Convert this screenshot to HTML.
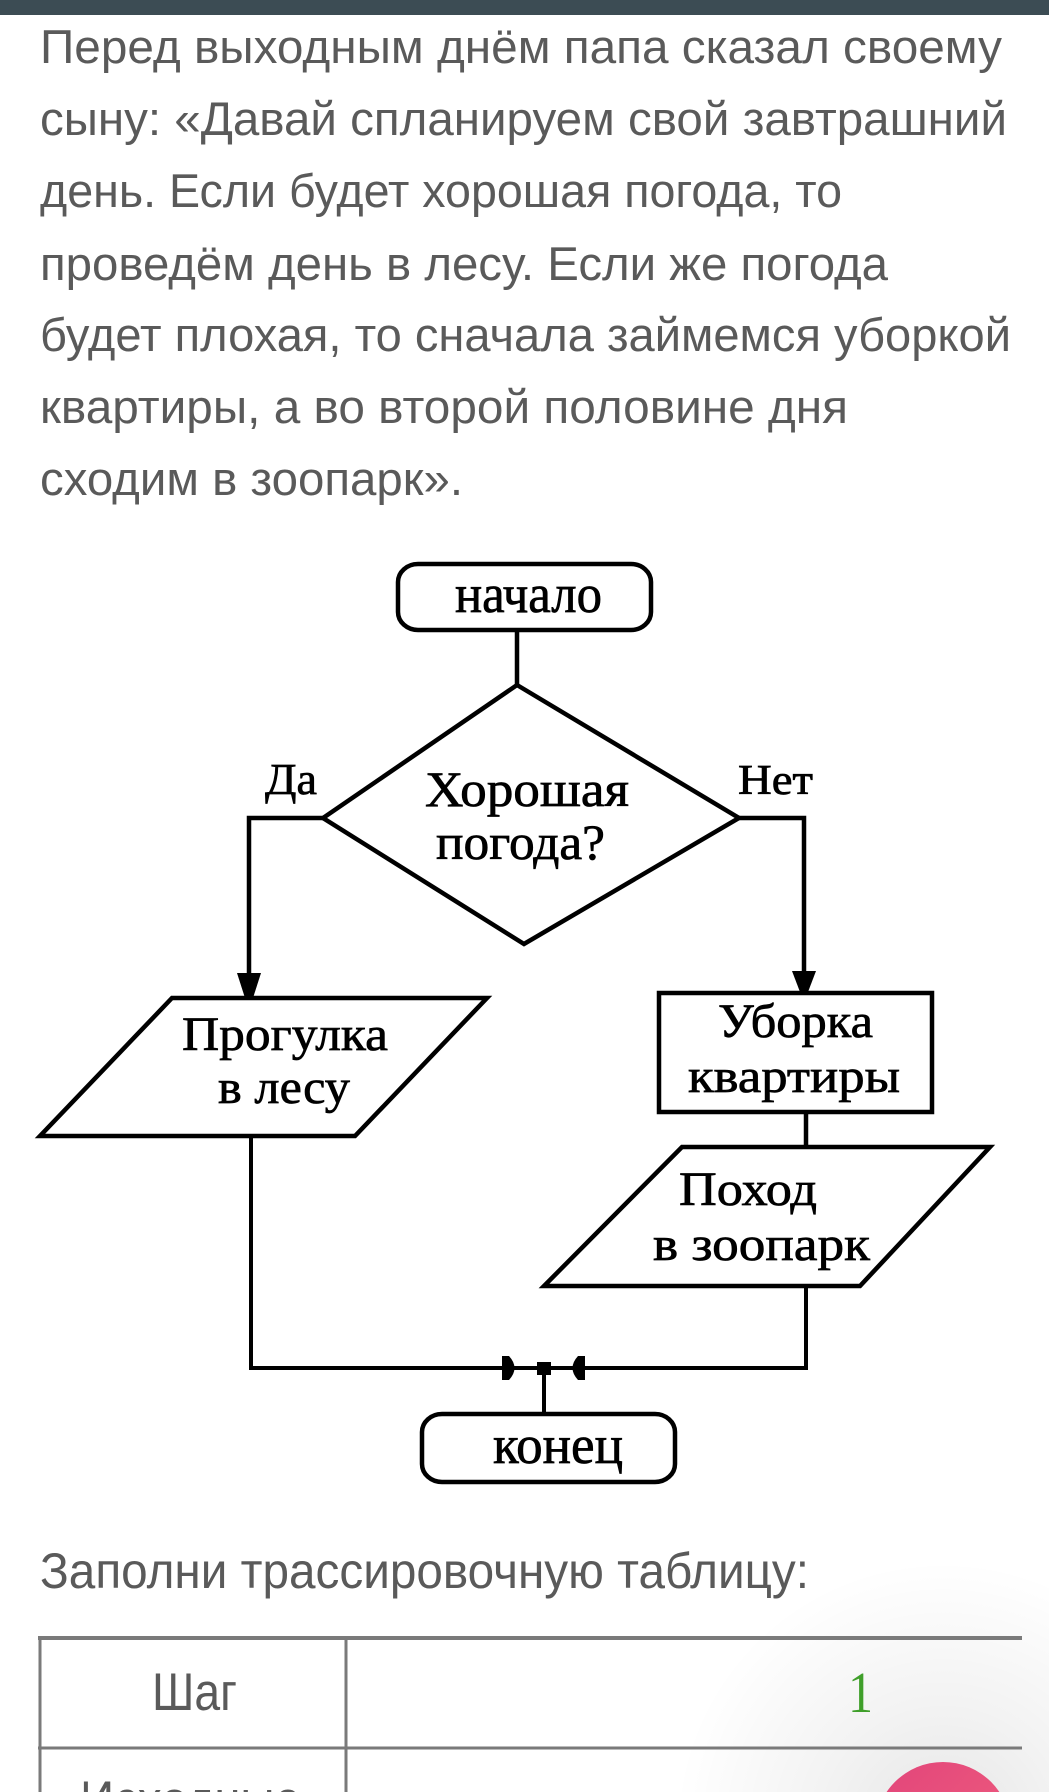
<!DOCTYPE html>
<html>
<head>
<meta charset="utf-8">
<style>
  html, body { margin: 0; padding: 0; background: #ffffff; }
  body { width: 1049px; height: 1792px; overflow: hidden; }
  svg { display: block; }
  .p { font-family: "Liberation Sans", "DejaVu Sans", sans-serif; fill: #5a5a5a; font-size: 47px; }
  .f { font-family: "Liberation Serif", "DejaVu Serif", serif; fill: #000; stroke: #000; stroke-width: 0.7px; }
</style>
</head>
<body>
<svg width="1049" height="1792" viewBox="0 0 1049 1792" xmlns="http://www.w3.org/2000/svg">
  <defs>
    <radialGradient id="sh" cx="943" cy="1830" r="270" gradientUnits="userSpaceOnUse">
      <stop offset="0" stop-color="#000" stop-opacity="0.10"/>
      <stop offset="0.45" stop-color="#000" stop-opacity="0.05"/>
      <stop offset="1" stop-color="#000" stop-opacity="0"/>
    </radialGradient>
    <linearGradient id="pk" x1="0" y1="0" x2="1" y2="1">
      <stop offset="0" stop-color="#e2457a"/>
      <stop offset="1" stop-color="#f0607f"/>
    </linearGradient>
    <clipPath id="pg"><rect x="0" y="0" width="1049" height="1792"/></clipPath>
  </defs>

  <g clip-path="url(#pg)">
  <rect x="0" y="0" width="1049" height="1792" fill="#fff"/>

  <!-- header bar -->
  <rect x="0" y="0" width="1049" height="15" fill="#3c4c54"/>

  <!-- paragraph -->
  <text class="p" x="40" y="63" textLength="962" lengthAdjust="spacingAndGlyphs">Перед выходным днём папа сказал своему</text>
  <text class="p" x="40" y="135" textLength="967" lengthAdjust="spacingAndGlyphs">сыну: «Давай спланируем свой завтрашний</text>
  <text class="p" x="40" y="207" textLength="802" lengthAdjust="spacingAndGlyphs">день. Если будет хорошая погода, то</text>
  <text class="p" x="40" y="280" textLength="848" lengthAdjust="spacingAndGlyphs">проведём день в лесу. Если же погода</text>
  <text class="p" x="40" y="351" textLength="971" lengthAdjust="spacingAndGlyphs">будет плохая, то сначала займемся уборкой</text>
  <text class="p" x="40" y="423" textLength="808" lengthAdjust="spacingAndGlyphs">квартиры, а во второй половине дня</text>
  <text class="p" x="40" y="495" textLength="423" lengthAdjust="spacingAndGlyphs">сходим в зоопарк».</text>

  <!-- flowchart -->
  <g fill="none" stroke="#000" stroke-width="4.5" stroke-linejoin="miter">
    <rect x="398" y="564" width="253" height="66" rx="20" ry="18"/>
    <line x1="517" y1="630" x2="517" y2="686"/>
    <polygon points="517,685 739,818 524,944 323,818"/>
    <polyline points="323,818 249,818 249,976"/>
    <polyline points="739,818 804,818 804,973"/>
    <polygon points="172,998 487,998 355,1136 40,1136"/>
    <rect x="659" y="993" width="273" height="119"/>
    <line x1="806" y1="1112" x2="806" y2="1147"/>
    <polygon points="682,1147 990,1147 860,1286 544,1286"/>
    <polyline points="251,1136 251,1368 806,1368 806,1286" stroke-width="4"/>
    <line x1="544" y1="1368" x2="544" y2="1414" stroke-width="4"/>
    <rect x="422" y="1414" width="253" height="68" rx="20" ry="18"/>
  </g>

  <!-- arrowheads -->
  <g fill="#000">
    <polygon points="237,973 261,973 253,998 245,998"/>
    <polygon points="792,971 816,971 808,992 800,992"/>
    <path d="M502,1356 L509,1356 Q520,1368 509,1380 L502,1380 Z"/>
    <path d="M585,1356 L578,1356 Q567,1368 578,1380 L585,1380 Z"/>
    <rect x="537" y="1362" width="14" height="13"/>
  </g>

  <!-- flowchart labels -->
  <text class="f" x="455" y="612" font-size="54" textLength="147" lengthAdjust="spacingAndGlyphs">начало</text>
  <text class="f" x="425" y="806" font-size="50" textLength="204" lengthAdjust="spacingAndGlyphs">Хорошая</text>
  <text class="f" x="436" y="859" font-size="50" textLength="169" lengthAdjust="spacingAndGlyphs">погода?</text>
  <text class="f" x="265" y="794" font-size="44" textLength="52" lengthAdjust="spacingAndGlyphs">Да</text>
  <text class="f" x="738" y="794" font-size="42" textLength="75" lengthAdjust="spacingAndGlyphs">Нет</text>
  <text class="f" x="182" y="1050" font-size="48" textLength="206" lengthAdjust="spacingAndGlyphs">Прогулка</text>
  <text class="f" x="218" y="1103" font-size="48" textLength="132" lengthAdjust="spacingAndGlyphs">в лесу</text>
  <text class="f" x="718" y="1037" font-size="48" textLength="155" lengthAdjust="spacingAndGlyphs">Уборка</text>
  <text class="f" x="688" y="1092" font-size="48" textLength="212" lengthAdjust="spacingAndGlyphs">квартиры</text>
  <text class="f" x="679" y="1205" font-size="48" textLength="138" lengthAdjust="spacingAndGlyphs">Поход</text>
  <text class="f" x="653" y="1260" font-size="48" textLength="217" lengthAdjust="spacingAndGlyphs">в зоопарк</text>
  <text class="f" x="493" y="1463" font-size="54" textLength="130" lengthAdjust="spacingAndGlyphs">конец</text>

  <!-- second prompt -->
  <text class="p" x="40" y="1588" style="font-size:50px" textLength="769" lengthAdjust="spacingAndGlyphs">Заполни трассировочную таблицу:</text>

  <!-- shadow near button -->
  <rect x="660" y="1560" width="389" height="232" fill="url(#sh)"/>

  <!-- table -->
  <g stroke="#7a7a7a" fill="none">
    <line x1="38" y1="1638" x2="1022" y2="1638" stroke-width="4"/>
    <line x1="38" y1="1748" x2="1022" y2="1748" stroke-width="3"/>
    <line x1="40" y1="1636" x2="40" y2="1792" stroke-width="3"/>
    <line x1="346" y1="1636" x2="346" y2="1792" stroke-width="3"/>
  </g>
  <text class="p" x="152" y="1710" style="font-size:53px" textLength="85" lengthAdjust="spacingAndGlyphs">Шаг</text>
  <text x="848" y="1712" font-family="Liberation Serif, serif" font-size="58" fill="#3f9f2a" textLength="25" lengthAdjust="spacingAndGlyphs">1</text>
  <text class="p" x="80" y="1818" style="font-size:53px" textLength="221" lengthAdjust="spacingAndGlyphs">Исходные</text>

  <!-- pink button -->
  <circle cx="943" cy="1830" r="68" fill="url(#pk)"/>
  </g>
</svg>
</body>
</html>
